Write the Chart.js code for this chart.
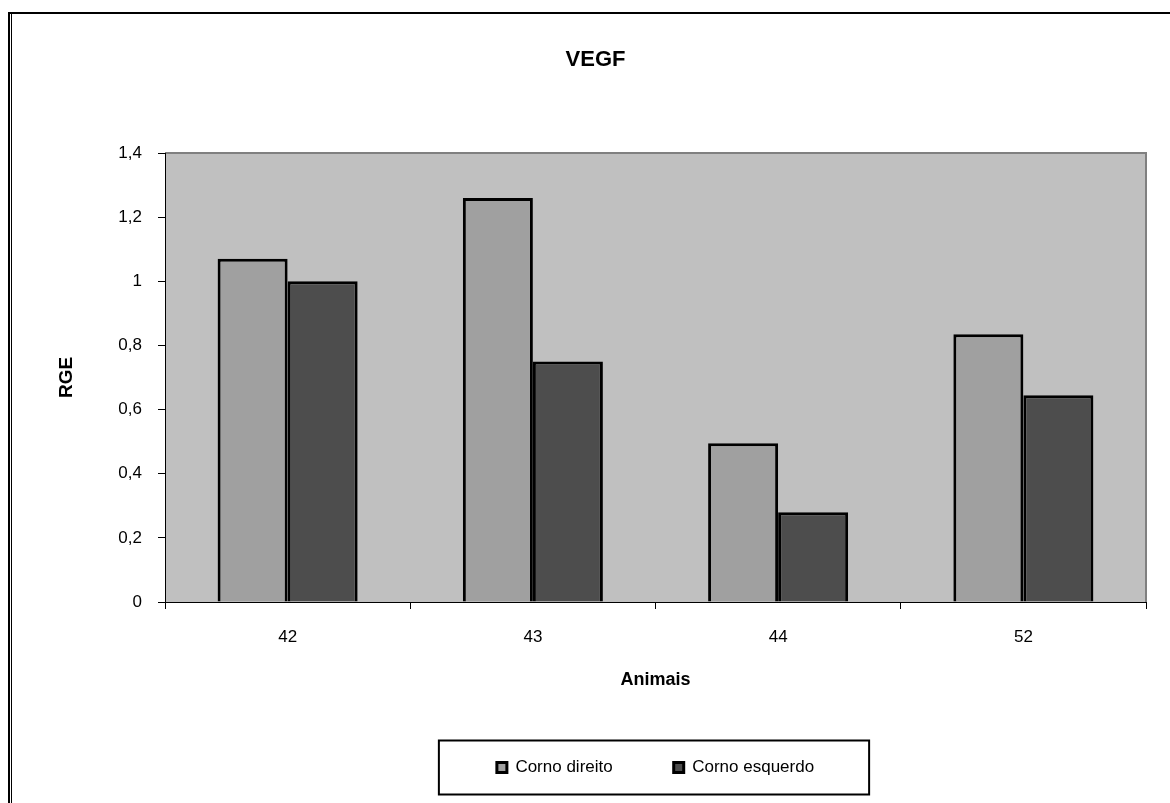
<!DOCTYPE html>
<html lang="pt">
<head>
<meta charset="utf-8">
<title>VEGF</title>
<script src="https://cdn.jsdelivr.net/npm/chart.js@4.4.1/dist/chart.umd.min.js"></script>
<style>
    html, body { margin: 0; padding: 0; background: #fff; }
    #chartVegf { display: block; }
</style>
</head>
<body>
<canvas id="chartVegf" width="1170" height="803"></canvas>
<script>
// =================== Dados ===================

const animais = ['42', '43', '44', '52'];
const cornoDireito = [1.07, 1.26, 0.495, 0.835];
const cornoEsquerdo = [1.0, 0.75, 0.28, 0.645];
const seriesNames = ['Corno direito', 'Corno esquerdo'];
const yTicks = [0, 0.2, 0.4, 0.6, 0.8, 1, 1.2, 1.4];

(function () {
    'use strict';

    const FONT = 'Arial, "Liberation Sans", sans-serif';

    // vírgula decimal, como no original
    function fmt(v) {
        return String(Math.round(v * 10) / 10).replace('.', ',');
    }

    // fundo branco, moldura e área do gráfico cinza
    const framePlugin = {
        id: 'frame',
        beforeDraw(chart) {
            const ctx = chart.ctx;
            const a = chart.chartArea;
            ctx.save();
            ctx.fillStyle = '#fff';
            ctx.fillRect(0, 0, chart.width, chart.height);

            ctx.fillStyle = '#c0c0c0';
            ctx.fillRect(a.left, a.top, a.right - a.left, a.bottom - a.top);

            ctx.fillStyle = '#808080';
            ctx.fillRect(a.left, a.top - 1, a.right - a.left + 1, 2);
            ctx.fillRect(a.right - 1, a.top - 1, 2, a.bottom - a.top + 1);

            ctx.fillStyle = '#000';
            ctx.fillRect(8, 12, chart.width - 8, 2);
            ctx.fillRect(8, 12, 2, chart.height - 12);
            ctx.fillRect(11, 12, 1, chart.height - 12);
            ctx.restore();
        },
        afterDraw(chart) {
            // caixa da legenda
            const lg = chart.legend;
            if (!lg || !lg.legendHitBoxes || !lg.legendHitBoxes.length) return;
            const boxes = lg.legendHitBoxes;
            const first = boxes[0];
            const last = boxes[boxes.length - 1];
            const cy = first.top + first.height / 2;
            const ctx = chart.ctx;
            ctx.save();
            ctx.strokeStyle = '#000';
            ctx.lineWidth = 2;
            const left = first.left - 58;
            const right = last.left + last.width + 55;
            ctx.strokeRect(left, cy - 27, right - left, 54);
            ctx.restore();
        }
    };

    const ctx = document.getElementById('chartVegf').getContext('2d');

    new Chart(ctx, {
        type: 'bar',
        data: {
            labels: animais,
            datasets: [{
                label: seriesNames[0],
                data: cornoDireito,
                backgroundColor: '#a0a0a0',
                borderColor: '#000',
                borderWidth: 3
            }, {
                label: seriesNames[1],
                data: cornoEsquerdo,
                backgroundColor: '#4d4d4d',
                borderColor: '#000',
                borderWidth: 3
            }]
        },
        options: {
            responsive: false,
            animation: false,
            devicePixelRatio: 1,
            categoryPercentage: 0.571,
            barPercentage: 1.0,
            layout: {
                padding: { left: 45, right: 24, top: 0, bottom: 17 }
            },
            plugins: {
                tooltip: { enabled: false },
                title: {
                    display: true,
                    text: 'VEGF',
                    color: '#000',
                    font: { family: FONT, size: 22, weight: 'bold' },
                    padding: { top: 47, bottom: 79.6 }
                },
                legend: {
                    position: 'bottom',
                    fullSize: false,
                    labels: {
                        color: '#000',
                        font: { family: FONT, size: 17 },
                        boxWidth: 10,
                        boxHeight: 10,
                        padding: 61
                    }
                }
            },
            scales: {
                x: {
                    offset: true,
                    afterFit: function (scale) { scale.height = 96; },
                    grid: {
                        offset: true,
                        drawOnChartArea: false,
                        drawTicks: true,
                        tickLength: 7,
                        color: '#000',
                        lineWidth: 1
                    },
                    border: { display: true, color: '#000', width: 1 },
                    ticks: {
                        color: '#000',
                        padding: 18,
                        font: { family: FONT, size: 17 }
                    },
                    title: {
                        display: true,
                        text: 'Animais',
                        color: '#000',
                        font: { family: FONT, size: 18, weight: 'bold' },
                        padding: { top: 0, bottom: 7 }
                    }
                },
                y: {
                    min: yTicks[0],
                    max: yTicks[yTicks.length - 1],
                    afterFit: function (scale) { scale.width = 120; },
                    afterBuildTicks: function (scale) {
                        scale.ticks = yTicks.map(v => ({ value: v }));
                    },
                    grid: {
                        drawOnChartArea: false,
                        drawTicks: true,
                        tickLength: 7,
                        color: '#000',
                        lineWidth: 1
                    },
                    border: { display: true, color: '#000', width: 1 },
                    ticks: {
                        color: '#000',
                        padding: 16,
                        font: { family: FONT, size: 17 },
                        callback: function (v) { return fmt(v); }
                    },
                    title: {
                        display: true,
                        text: 'RGE',
                        color: '#000',
                        font: { family: FONT, size: 19, weight: 'bold' },
                        padding: { top: 10, bottom: 0 }
                    }
                }
            }
        },
        plugins: [framePlugin]
    });
})();
</script>
</body>
</html>
